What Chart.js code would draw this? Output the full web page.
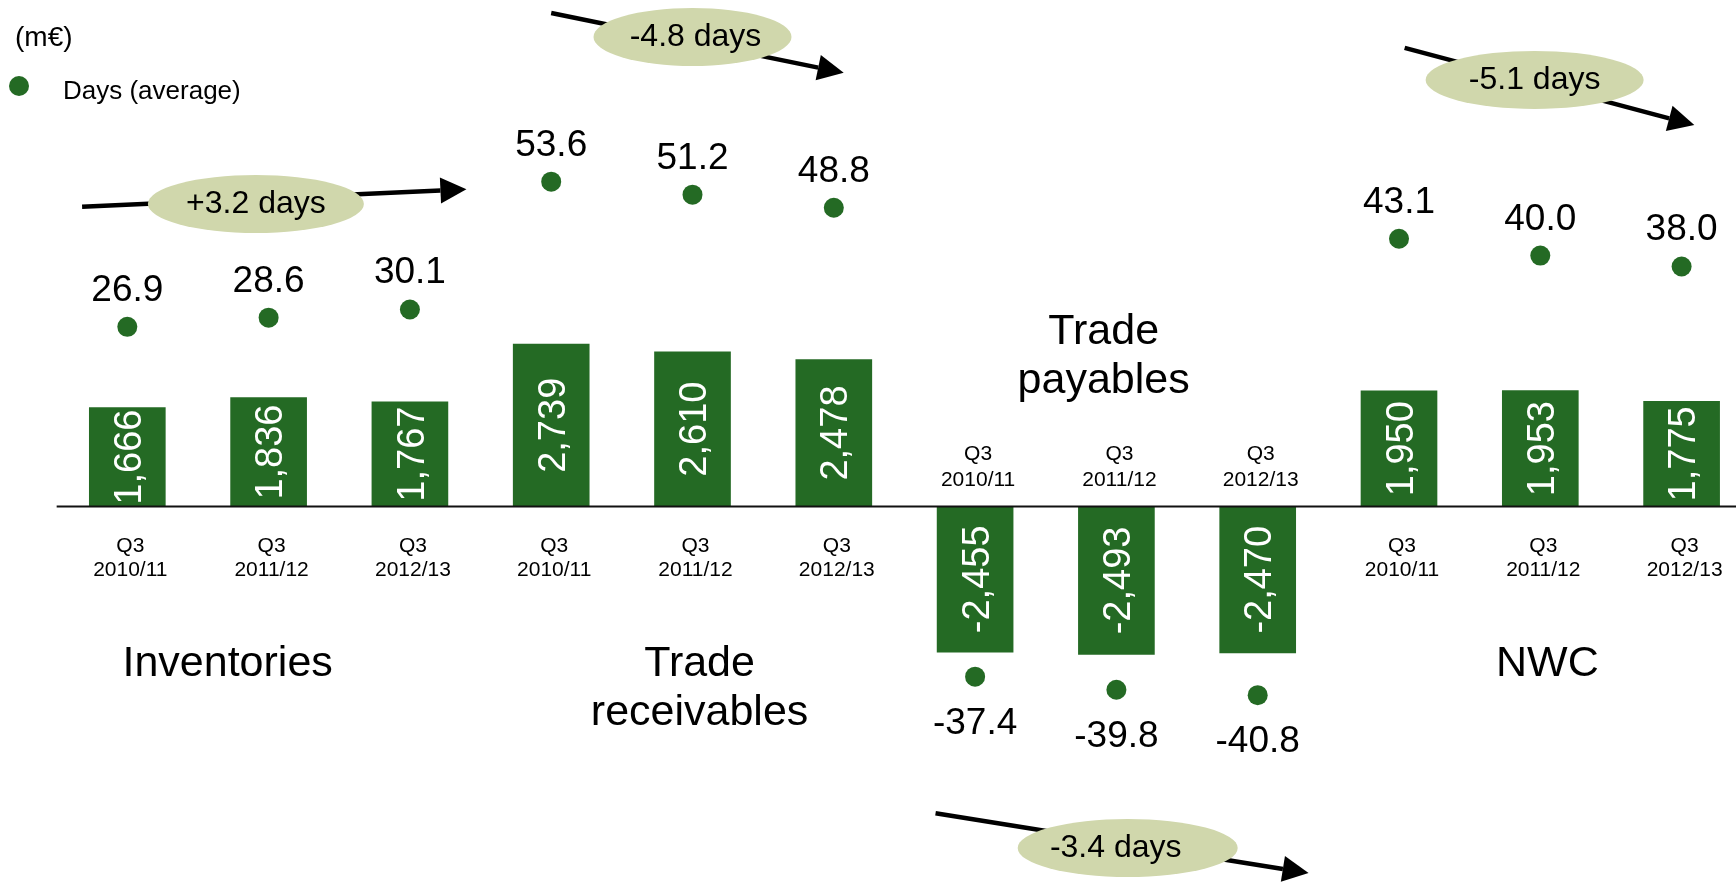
<!DOCTYPE html>
<html>
<head>
<meta charset="utf-8">
<title>Net working capital</title>
<script src="https://cdn.jsdelivr.net/npm/chart.js@4.4.1/dist/chart.umd.min.js"></script>
<style>
  html, body { margin: 0; padding: 0; background: #fff; }
  canvas { display: block; }
</style>
</head>
<body>
<canvas id="nwcChart" width="1736" height="882"></canvas>
<script>
const groups = ['Inventories', 'Trade receivables', 'Trade payables', 'NWC'];
const periods = ['Q3 2010/11', 'Q3 2011/12', 'Q3 2012/13'];

// m€
const inventories = [1666, 1836, 1767];
const receivables = [2739, 2610, 2478];
const payables = [-2455, -2493, -2470];
const nwc = [1950, 1953, 1775];

// days (average)
const inventoryDays = [26.9, 28.6, 30.1];
const receivableDays = [53.6, 51.2, 48.8];
const payableDays = [-37.4, -39.8, -40.8];
const nwcDays = [43.1, 40.0, 38.0];

const amounts = [inventories, receivables, payables, nwc];
const days = [inventoryDays, receivableDays, payableDays, nwcDays];

const GREEN = '#246a24';
const BADGE = '#d0d7ac';
const FONT = '"Liberation Sans", Arial, Helvetica, sans-serif';
const per = periods.length;
const fmt = new Intl.NumberFormat('en-US');

const barPoints = amounts.flatMap((vals, g) => vals.map((v, k) => ({ x: g * per + k, y: v })));
const dayPoints = days.flatMap((vals, g) => vals.map((v, k) => ({ x: g * per + k, y: v })));

// group titles: dx in slots from the group's first bar, y in px from the zero line
const titleSpots = [
  { dx: 0.71, y: 170 },
  { dx: 1.05, y: 170 },
  { dx: 0.91, y: -162 },
  { dx: 1.05, y: 170 },
];

// trend arrows: [slot offset, days]
const trendSpots = [
  { from: [-0.32, 49.0], to: [2.40, 52.2], badge: [0.91, 49.5], rx: 108, textDx: 0 },
  { from: [0.00, 84.6], to: [2.07, 73.6], badge: [1.00, 80.2], rx: 99, textDx: 3 },
  { from: [-0.28, -62.5], to: [2.36, -73.5], badge: [1.08, -68.9], rx: 110, textDx: -12 },
  { from: [0.04, 78.2], to: [2.09, 64.0], badge: [0.96, 72.3], rx: 109, textDx: 0 },
];

function arrow(ctx, x0, y0, x1, y1) {
  const ang = Math.atan2(y1 - y0, x1 - x0);
  const len = 26, half = 13;
  const bx = x1 - len * Math.cos(ang), by = y1 - len * Math.sin(ang);
  ctx.strokeStyle = '#000';
  ctx.lineWidth = 4.5;
  ctx.beginPath();
  ctx.moveTo(x0, y0);
  ctx.lineTo(bx, by);
  ctx.stroke();
  ctx.fillStyle = '#000';
  ctx.beginPath();
  ctx.moveTo(x1, y1);
  ctx.lineTo(bx + half * Math.sin(ang), by - half * Math.cos(ang));
  ctx.lineTo(bx - half * Math.sin(ang), by + half * Math.cos(ang));
  ctx.closePath();
  ctx.fill();
}

const annotate = {
  id: 'annotate',
  afterDatasetsDraw(chart) {
    const { ctx, chartArea, scales: { x, y, yDays } } = chart;
    const zeroY = y.getPixelForValue(0);
    ctx.save();

    // zero line
    ctx.strokeStyle = '#111';
    ctx.lineWidth = 2;
    ctx.beginPath();
    ctx.moveTo(x.getPixelForValue(-0.5), zeroY);
    ctx.lineTo(chartArea.right, zeroY);
    ctx.stroke();

    // amounts inside the bars
    ctx.fillStyle = '#fff';
    ctx.font = `38px ${FONT}`;
    ctx.textAlign = 'center';
    ctx.textBaseline = 'alphabetic';
    chart.getDatasetMeta(0).data.forEach((bar, i) => {
      ctx.save();
      ctx.translate(bar.x, (bar.y + bar.base) / 2);
      ctx.rotate(-Math.PI / 2);
      ctx.fillText(fmt.format(barPoints[i].y), 0, 38 * 0.358);
      ctx.restore();
    });

    // day values next to the dots
    ctx.fillStyle = '#000';
    ctx.font = `37px ${FONT}`;
    chart.getDatasetMeta(1).data.forEach((pt, i) => {
      const v = dayPoints[i].y;
      ctx.fillText(v.toFixed(1), pt.x, v >= 0 ? pt.y - 26 : pt.y + 57);
    });

    // period labels, on the free side of the zero line
    ctx.font = `21px ${FONT}`;
    barPoints.forEach((p, i) => {
      const [q, yr] = periods[i % per].split(' ');
      const px = x.getPixelForValue(p.x) + 3;
      if (p.y >= 0) {
        ctx.fillText(q, px, zeroY + 46);
        ctx.fillText(yr, px, zeroY + 70);
      } else {
        ctx.fillText(q, px, zeroY - 46);
        ctx.fillText(yr, px, zeroY - 20);
      }
    });

    // group titles
    ctx.font = `43px ${FONT}`;
    groups.forEach((name, g) => {
      const spot = titleSpots[g];
      const px = x.getPixelForValue(g * per + spot.dx);
      name.split(' ').forEach((line, j) => {
        ctx.fillText(line, px, zeroY + spot.y + j * 49);
      });
    });

    // trend arrows with change badges
    trendSpots.forEach((t, g) => {
      const base = g * per;
      arrow(ctx,
        x.getPixelForValue(base + t.from[0]), yDays.getPixelForValue(t.from[1]),
        x.getPixelForValue(base + t.to[0]), yDays.getPixelForValue(t.to[1]));
      const cx = x.getPixelForValue(base + t.badge[0]);
      const cy = yDays.getPixelForValue(t.badge[1]);
      ctx.fillStyle = BADGE;
      ctx.beginPath();
      ctx.ellipse(cx, cy, t.rx, 29, 0, 0, Math.PI * 2);
      ctx.fill();
      const d = days[g];
      const change = d[d.length - 1] - d[0];
      ctx.fillStyle = '#000';
      ctx.font = `32px ${FONT}`;
      ctx.fillText(`${change > 0 ? '+' : ''}${change.toFixed(1)} days`, cx + t.textDx, cy + 9);
    });

    // unit and legend
    ctx.textAlign = 'left';
    ctx.font = `28px ${FONT}`;
    ctx.fillText('(m€)', 15, 46);
    ctx.fillStyle = GREEN;
    ctx.beginPath();
    ctx.arc(19, 86, 10, 0, Math.PI * 2);
    ctx.fill();
    ctx.fillStyle = '#000';
    ctx.font = `26px ${FONT}`;
    ctx.fillText(chart.data.datasets[1].label, 63, 99);

    ctx.restore();
  }
};

new Chart(document.getElementById('nwcChart'), {
  type: 'bar',
  data: {
    datasets: [
      {
        label: 'm€',
        data: barPoints,
        backgroundColor: GREEN,
        borderWidth: 0,
        barThickness: 76,
        yAxisID: 'y',
      },
      {
        type: 'line',
        label: 'Days (average)',
        data: dayPoints,
        showLine: false,
        pointRadius: 10,
        pointBackgroundColor: GREEN,
        pointBorderWidth: 0,
        yAxisID: 'yDays',
      },
    ],
  },
  options: {
    responsive: false,
    devicePixelRatio: 1,
    animation: false,
    events: [],
    layout: { padding: 0, autoPadding: false },
    plugins: {
      legend: { display: false },
      tooltip: { enabled: false },
    },
    scales: {
      x: { type: 'linear', min: -0.901, max: 11.385, offset: false, display: false },
      y: { min: -6332, max: 8541, display: false },
      yDays: { min: -75.15, max: 86.99, display: false },
    },
  },
  plugins: [annotate],
});
</script>
</body>
</html>
